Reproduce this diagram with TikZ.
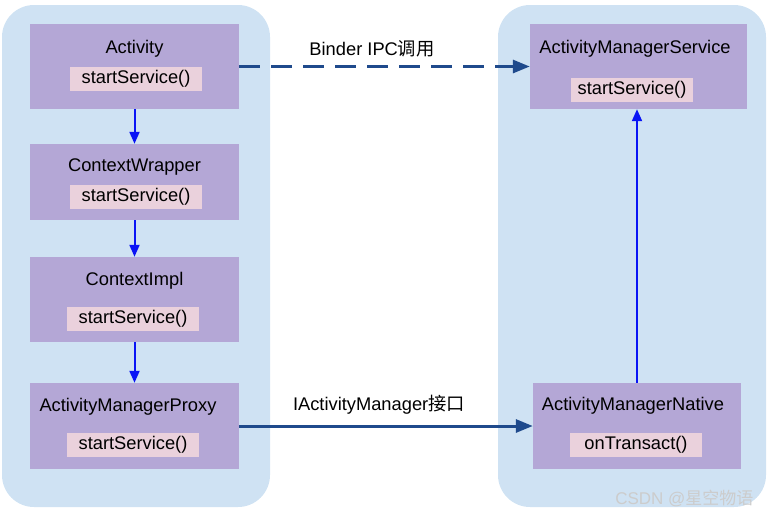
\documentclass[tikz,border=0pt]{standalone}
\usepackage{fontspec}
\setmainfont{Liberation Sans}
\newfontfamily\cjk{Noto Sans CJK SC}
\usetikzlibrary{arrows.meta,positioning}
\definecolor{panelblue}{HTML}{CFE2F3}
\definecolor{boxpurple}{HTML}{B4A7D6}
\definecolor{methodpink}{HTML}{EAD1DC}
\definecolor{ipcblue}{HTML}{1F4A8C}
\definecolor{callblue}{HTML}{0A14F5}

\begin{document}
\begin{tikzpicture}[x=1pt, y=-1pt, font=\fontsize{18.3}{21}\selectfont]
    \tikzstyle{panel} = [rectangle, fill=panelblue, rounded corners=32pt, minimum width=268pt, minimum height=502pt]
    \tikzstyle{box} = [rectangle, fill=boxpurple, minimum width=209pt, minimum height=85pt]
    \tikzstyle{method} = [rectangle, fill=methodpink, minimum width=132pt, minimum height=24pt, inner sep=0pt]
    \tikzstyle{title} = [inner sep=0pt, anchor=base]
    \tikzstyle{call} = [-{Triangle[length=12pt,width=10pt]}, callblue, line width=2pt]
    \tikzstyle{ipc} = [-{Triangle[length=17pt,width=13pt]}, ipcblue, line width=3pt]
    \tikzstyle{label} = [anchor=base, text=black]
    \useasboundingbox (0,0) rectangle (776,512);

    % two process panels
    \node [panel] (client) at (136,256) {};
    \node [panel] (server) at (632,256) {};

    % client side
    \node [box] (activity) at (134.5,66.5) {};
    \node [title] (activityname) at (134.5,53) {Activity};
    \node [method] (activitycall) at (136,79) {startService()};
    \node [box, minimum height=76pt] (wrapper) at (134.5,182) {};
    \node [title] (wrappername) at (134.5,171) {ContextWrapper};
    \node [method] (wrappercall) at (136,196.5) {startService()};
    \node [box] (impl) at (134.5,299.5) {};
    \node [title] (implname) at (134.5,285) {ContextImpl};
    \node [method] (implcall) at (133,319) {startService()};
    \node [box, minimum height=86pt] (proxy) at (134.5,426) {};
    \node [title] (proxyname) at (128,411) {ActivityManagerProxy};
    \node [method] (proxycall) at (133,445) {startService()};

    % server side
    \node [box, minimum width=217pt] (service) at (638.5,66.5) {};
    \node [title] (servicename) at (635,53) {ActivityManagerService};
    \node [method, minimum width=122pt] (servicecall) at (632,90) {startService()};
    \node [box, minimum width=208pt, minimum height=86pt] (native) at (637,426) {};
    \node [title] (nativename) at (633,410) {ActivityManagerNative};
    \node [method] (nativecall) at (636,445) {onTransact()};

    \draw [call] (activity) -- (wrapper);
    \draw [call] (wrapper) -- (impl);
    \draw [call] (impl) -- (proxy);
    \draw [call] (native.north) -- (native.north |- service.south);

    \draw [ipc, dash pattern=on 21pt off 11pt] (activity) -- node[label, pos=0.457, yshift=11.5pt] {Binder IPC{\cjk 调用}} (service);
    \draw [ipc] (proxy) -- node[label, pos=0.476, yshift=16pt] {IActivityManager{\cjk 接口}} (native);

    \node [anchor=base east, text=black!20, font=\fontsize{17}{20}\selectfont] (mark) at (757,504) {CSDN @{\cjk 星空物语}};
\end{tikzpicture}
\end{document}
